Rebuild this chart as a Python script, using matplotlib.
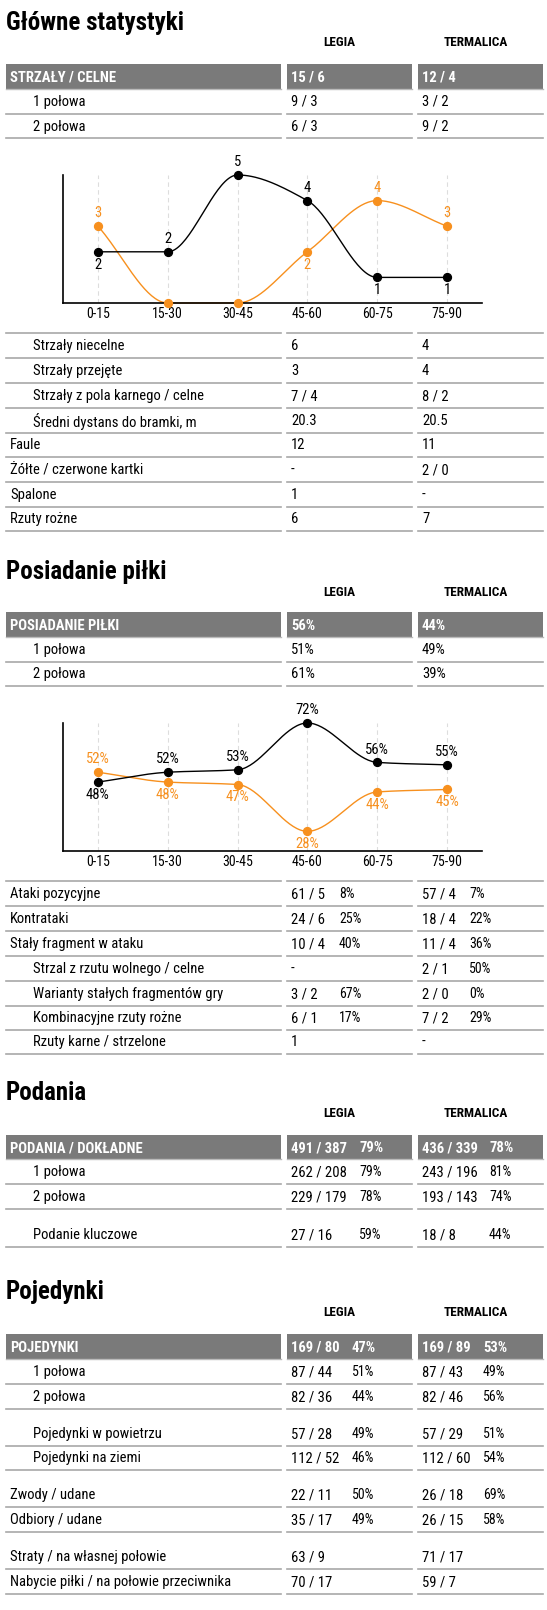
import numpy as np
import matplotlib
matplotlib.use("Agg")
import matplotlib.pyplot as plt
from matplotlib import font_manager as fm

names = {f.name for f in fm.fontManager.ttflist}
FONT = [f for f in ["Liberation Sans Narrow", "Roboto Condensed", "Roboto", "DejaVu Sans"] if f in names] + ["DejaVu Sans"]
plt.rcParams['font.family'] = FONT

W, H = 547, 1610
ORANGE = "#f7901e"
GRAY = "#7a7a7a"
LINE = "#a8a8a8"

# ---------------- data ----------------
periods = ["0-15", "15-30", "30-45", "45-60", "60-75", "75-90"]
shots_legia = [2, 2, 5, 4, 1, 1]
shots_term = [3, 0, 0, 2, 4, 3]
poss_legia = [48, 52, 53, 72, 56, 55]
poss_term = [52, 48, 47, 28, 44, 45]

sec1_head = ["STRZAŁY / CELNE", "15 / 6", "12 / 4"]
sec1_top = [("1 połowa", "9 / 3", "3 / 2"), ("2 połowa", "6 / 3", "9 / 2")]
sec1_rows = [("Strzały niecelne", 1, "6", "4"), ("Strzały przejęte", 1, "3", "4"),
             ("Strzały z pola karnego / celne", 1, "7 / 4", "8 / 2"),
             ("Średni dystans do bramki, m", 1, "20.3", "20.5"),
             ("Faule", 0, "12", "11"), ("Żółte / czerwone kartki", 0, "-", "2 / 0"),
             ("Spalone", 0, "1", "-"), ("Rzuty rożne", 0, "6", "7")]
sec2_head = ["POSIADANIE PIŁKI", "56%", "44%"]
sec2_top = [("1 połowa", "51%", "49%"), ("2 połowa", "61%", "39%")]
sec2_rows = [("Ataki pozycyjne", 0, "61 / 5", "8%", "57 / 4", "7%"),
             ("Kontrataki", 0, "24 / 6", "25%", "18 / 4", "22%"),
             ("Stały fragment w ataku", 0, "10 / 4", "40%", "11 / 4", "36%"),
             ("Strzal z rzutu wolnego / celne", 1, "-", "", "2 / 1", "50%"),
             ("Warianty stałych fragmentów gry", 1, "3 / 2", "67%", "2 / 0", "0%"),
             ("Kombinacyjne rzuty rożne", 1, "6 / 1", "17%", "7 / 2", "29%"),
             ("Rzuty karne / strzelone", 1, "1", "", "-", "")]
sec3_head = ["PODANIA / DOKŁADNE", "491 / 387", "79%", "436 / 339", "78%"]
sec3_rows = [("1 połowa", 1, "262 / 208", "79%", "243 / 196", "81%"),
             ("2 połowa", 1, "229 / 179", "78%", "193 / 143", "74%"),
             ("Podanie kluczowe", 1, "27 / 16", "59%", "18 / 8", "44%")]
sec4_head = ["POJEDYNKI", "169 / 80", "47%", "169 / 89", "53%"]
sec4_rows = [("1 połowa", 1, "87 / 44", "51%", "87 / 43", "49%"),
             ("2 połowa", 1, "82 / 36", "44%", "82 / 46", "56%"),
             ("Pojedynki w powietrzu", 1, "57 / 28", "49%", "57 / 29", "51%"),
             ("Pojedynki na ziemi", 1, "112 / 52", "46%", "112 / 60", "54%"),
             ("Zwody / udane", 0, "22 / 11", "50%", "26 / 18", "69%"),
             ("Odbiory / udane", 0, "35 / 17", "49%", "26 / 15", "58%"),
             ("Straty / na własnej połowie", 0, "63 / 9", "", "71 / 17", ""),
             ("Nabycie piłki / na połowie przeciwnika", 0, "70 / 17", "", "59 / 7", "")]

# ---------------- layout ----------------
fig = plt.figure(figsize=(W / 100, H / 100), dpi=100)
ax = fig.add_axes([0, 0, 1, 1])
ax.set_xlim(0, W); ax.set_ylim(H, 0); ax.axis("off")

COLS = [(6, 281), (287, 412), (418, 543)]
LX, VX = [10, 33], [291, 422]
FS = 10.5

def title(y, text):
    ax.text(6, y, text, fontsize=18, fontweight="bold", va="center", ha="left")
    ax.text(339, y + 20, "LEGIA", fontsize=9.5, fontweight="bold", va="center", ha="center")
    ax.text(476, y + 20, "TERMALICA", fontsize=9.5, fontweight="bold", va="center", ha="center")

def header(y0, y1, texts, pct_x=None):
    for (a, b) in COLS:
        ax.add_patch(plt.Rectangle((a, y0), b - a, y1 - y0, color=GRAY, lw=0))
        ax.plot([a, b], [y1, y1], color="#bbbbbb", lw=1)
    yc = (y0 + y1) / 2 + 1
    kw = dict(fontsize=FS, fontweight="bold", color="white", va="center", ha="left")
    ax.text(10, yc, texts[0], **kw)
    if len(texts) == 3:
        ax.text(VX[0], yc, texts[1], **kw); ax.text(VX[1], yc, texts[2], **kw)
    else:
        ax.text(VX[0], yc, texts[1], **kw); ax.text(pct_x[0], yc, texts[2], **kw)
        ax.text(VX[1], yc, texts[3], **kw); ax.text(pct_x[1], yc, texts[4], **kw)

def row(yline, label, indent, vals, pct_x=None, top=False):
    if top:
        for (a, b) in COLS:
            ax.plot([a, b], [yline - 25, yline - 25], color=LINE, lw=1.2)
    for (a, b) in COLS:
        ax.plot([a, b], [yline, yline], color=LINE, lw=1.2)
    yc = yline - 12
    ax.text(LX[indent], yc, label, fontsize=FS, va="center", ha="left")
    if len(vals) == 2:
        ax.text(VX[0], yc, vals[0], fontsize=FS, va="center")
        ax.text(VX[1], yc, vals[1], fontsize=FS, va="center")
    else:
        ax.text(VX[0], yc, vals[0], fontsize=FS, va="center")
        ax.text(pct_x[0], yc, vals[1], fontsize=FS - 0.5, va="center")
        ax.text(VX[1], yc, vals[2], fontsize=FS, va="center")
        ax.text(pct_x[1], yc, vals[3], fontsize=FS - 0.5, va="center")

def monotone(x, y, n=40):
    x = np.asarray(x, float); y = np.asarray(y, float)
    h = np.diff(x); d = np.diff(y) / h
    m = np.zeros_like(y)
    m[0], m[-1] = d[0], d[-1]
    for i in range(1, len(y) - 1):
        if d[i - 1] * d[i] <= 0:
            m[i] = 0
        else:
            m[i] = 3 * (h[i - 1] + h[i]) / ((2 * h[i] + h[i - 1]) / d[i - 1] + (h[i] + 2 * h[i - 1]) / d[i])
    xs, ys = [], []
    for i in range(len(x) - 1):
        t = np.linspace(0, 1, n)
        h00 = 2 * t**3 - 3 * t**2 + 1; h10 = t**3 - 2 * t**2 + t
        h01 = -2 * t**3 + 3 * t**2; h11 = t**3 - t**2
        xs.append(x[i] + t * h[i])
        ys.append(h00 * y[i] + h10 * h[i] * m[i] + h01 * y[i + 1] + h11 * h[i] * m[i + 1])
    return np.concatenate(xs), np.concatenate(ys)

def chart(top, bottom, a, b, ylim, fmt, skip_zero):
    cax = fig.add_axes([63 / W, 1 - bottom / H, (482 - 63) / W, (bottom - top) / H])
    cax.set_xlim(-0.5, 5.5); cax.set_ylim(*ylim)
    for s in ["top", "right"]:
        cax.spines[s].set_visible(False)
    for s in ["left", "bottom"]:
        cax.spines[s].set_linewidth(1.2)
    cax.set_yticks([])
    x = np.arange(len(periods))
    cax.set_xticks(x, periods, fontsize=10)
    cax.tick_params(axis="x", length=0, pad=3)
    for xi in x:
        cax.plot([xi, xi], [ylim[0], ylim[1]], ls=(0, (4, 3)), color="#dddddd", lw=0.8, zorder=0)
    off = (ylim[1] - ylim[0]) * 0.1
    for ser, other, col in [(b, a, ORANGE), (a, b, "black")]:
        sx, sy = monotone(x, ser)
        cax.plot(sx, sy, color=col, lw=1, clip_on=False, zorder=2)
        cax.scatter(x, ser, s=32, color=col, zorder=3, clip_on=False)
        for xi, v, o in zip(x, ser, other):
            if skip_zero and v == 0:
                continue
            up = v > o
            cax.text(xi, v + (off if up else -off), fmt(v), color=col, fontsize=10.5,
                     ha="center", va="center", zorder=4)
    return cax

# Section 1
title(23, "Główne statystyki")
header(64, 89, sec1_head)
for i, (lab, l, t) in enumerate(sec1_top):
    row(114 + 24.5 * i, lab, 1, (l, t))
chart(175, 303, shots_legia, shots_term, (0, 5), lambda v: f"{v}", True)
ys1 = [358, 383, 408, 433, 457, 482, 507, 531]
for i, (lab, ind, l, t) in enumerate(sec1_rows):
    row(ys1[i], lab, ind, (l, t), top=(i == 0))

# Section 2
title(572, "Posiadanie piłki")
header(612, 637, sec2_head)
for i, (lab, l, t) in enumerate(sec2_top):
    row(662 + 24 * i, lab, 1, (l, t))
chart(723, 851, poss_legia, poss_term, (20, 72), lambda v: f"{v}%", False)
ys2 = [906, 931, 956, 981, 1006, 1030, 1054]
for i, (lab, ind, l, lp, t, tp) in enumerate(sec2_rows):
    row(ys2[i], lab, ind, (l, lp, t, tp), pct_x=(339, 469), top=(i == 0))

# Section 3
title(1093, "Podania")
header(1135, 1159, sec3_head, pct_x=(359, 489))
ys3 = [1184, 1209, 1247]
for i, (lab, ind, l, lp, t, tp) in enumerate(sec3_rows):
    row(ys3[i], lab, ind, (l, lp, t, tp), pct_x=(359, 489))

# Section 4
title(1292, "Pojedynki")
header(1334, 1359, sec4_head, pct_x=(352, 483))
ys4 = [1384, 1409, 1446, 1470, 1507, 1532, 1569, 1594]
for i, (lab, ind, l, lp, t, tp) in enumerate(sec4_rows):
    row(ys4[i], lab, ind, (l, lp, t, tp), pct_x=(352, 483))

fig.savefig("out.png", dpi=100)
